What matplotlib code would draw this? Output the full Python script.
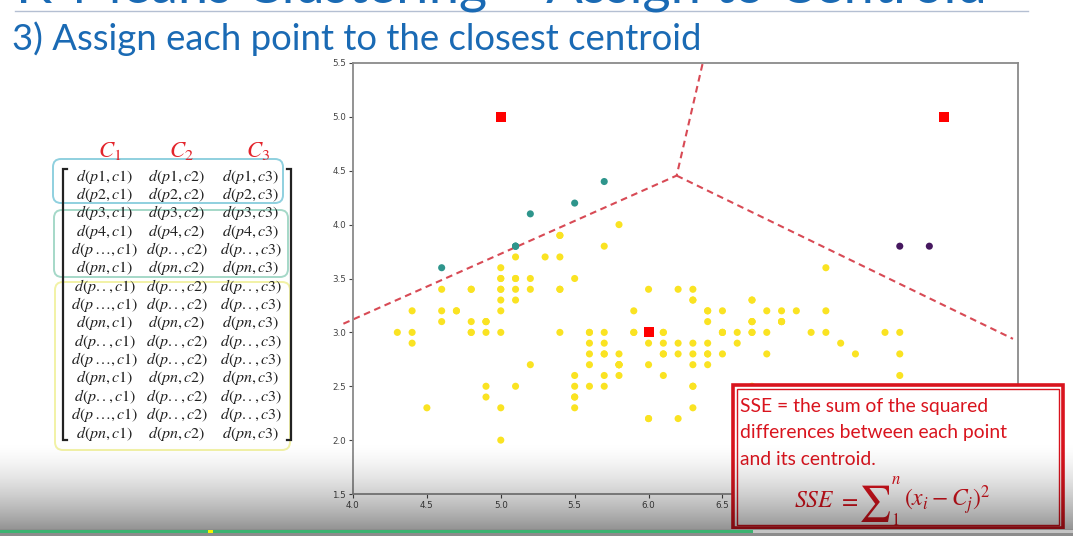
import numpy as np
import matplotlib
matplotlib.use("Agg")
import matplotlib.pyplot as plt
from matplotlib.patches import Rectangle, FancyBboxPatch

plt.rcParams['mathtext.fontset'] = 'stix'

# ---------------- data ----------------
sepal_length = [
    5.1, 4.9, 4.7, 4.6, 5.0, 5.4, 4.6, 5.0, 4.4, 4.9, 5.4, 4.8, 4.8, 4.3, 5.8, 5.7, 5.4, 5.1, 5.7, 5.1,
    5.4, 5.1, 4.6, 5.1, 4.8, 5.0, 5.0, 5.2, 5.2, 4.7, 4.8, 5.4, 5.2, 5.5, 4.9, 5.0, 5.5, 4.9, 4.4, 5.1,
    5.0, 4.5, 4.4, 5.0, 5.1, 4.8, 5.1, 4.6, 5.3, 5.0,
    7.0, 6.4, 6.9, 5.5, 6.5, 5.7, 6.3, 4.9, 6.6, 5.2, 5.0, 5.9, 6.0, 6.1, 5.6, 6.7, 5.6, 5.8, 6.2, 5.6,
    5.9, 6.1, 6.3, 6.1, 6.4, 6.6, 6.8, 6.7, 6.0, 5.7, 5.5, 5.5, 5.8, 6.0, 5.4, 6.0, 6.7, 6.3, 5.6, 5.5,
    5.5, 6.1, 5.8, 5.0, 5.6, 5.7, 5.7, 6.2, 5.1, 5.7,
    6.3, 5.8, 7.1, 6.3, 6.5, 7.6, 4.9, 7.3, 6.7, 7.2, 6.5, 6.4, 6.8, 5.7, 5.8, 6.4, 6.5, 7.7, 7.7, 6.0,
    6.9, 5.6, 7.7, 6.3, 6.7, 7.2, 6.2, 6.1, 6.4, 7.2, 7.4, 7.9, 6.4, 6.3, 6.1, 7.7, 6.3, 6.4, 6.0, 6.9,
    6.7, 6.9, 5.8, 6.8, 6.7, 6.7, 6.3, 6.5, 6.2, 5.9]
sepal_width = [
    3.5, 3.0, 3.2, 3.1, 3.6, 3.9, 3.4, 3.4, 2.9, 3.1, 3.7, 3.4, 3.0, 3.0, 4.0, 4.4, 3.9, 3.5, 3.8, 3.8,
    3.4, 3.7, 3.6, 3.3, 3.4, 3.0, 3.4, 3.5, 3.4, 3.2, 3.1, 3.4, 4.1, 4.2, 3.1, 3.2, 3.5, 3.1, 3.0, 3.4,
    3.5, 2.3, 3.2, 3.5, 3.8, 3.0, 3.8, 3.2, 3.7, 3.3,
    3.2, 3.2, 3.1, 2.3, 2.8, 2.8, 3.3, 2.4, 2.9, 2.7, 2.0, 3.0, 2.2, 2.9, 2.9, 3.1, 3.0, 2.7, 2.2, 2.5,
    3.2, 2.8, 2.5, 2.8, 2.9, 3.0, 2.8, 3.0, 2.9, 2.6, 2.4, 2.4, 2.7, 2.7, 3.0, 3.4, 3.1, 2.3, 3.0, 2.5,
    2.6, 3.0, 2.6, 2.3, 2.7, 3.0, 2.9, 2.9, 2.5, 2.8,
    3.3, 2.7, 3.0, 2.9, 3.0, 3.0, 2.5, 2.9, 2.5, 3.6, 3.2, 2.7, 3.0, 2.5, 2.8, 3.2, 3.0, 3.8, 2.6, 2.2,
    3.2, 2.8, 2.8, 2.7, 3.3, 3.2, 2.8, 3.0, 2.8, 3.0, 2.8, 3.8, 2.8, 2.8, 2.6, 3.0, 3.4, 3.1, 3.0, 3.1,
    3.1, 3.1, 2.7, 3.2, 3.3, 3.0, 2.5, 3.0, 3.4, 3.0]

centroid_x = [8.0, 5.0, 6.0]
centroid_y = [5.0, 5.0, 3.0]
cluster_colors = ['#46185f', '#2e958c', '#fae322']

# hand-drawn cluster boundaries (dashed)
boundary1_x = [6.365, 6.19, 3.91]
boundary1_y = [5.49, 4.455, 3.065]
boundary2_x = [6.19, 8.466]
boundary2_y = [4.455, 2.94]

x_ticks = [4.0, 4.5, 5.0, 5.5, 6.0, 6.5, 7.0, 7.5, 8.0, 8.5]
y_ticks = [1.5, 2.0, 2.5, 3.0, 3.5, 4.0, 4.5, 5.0, 5.5]

column_labels = [r'$C_1$', r'$C_2$', r'$C_3$']
row_points_c1 = ['p1', 'p2', 'p3', 'p4', 'p\\,\\ldots', 'pn',
                 'p..', 'p\\,\\ldots', 'pn', 'p..', 'p\\,\\ldots', 'pn', 'p..', 'p\\,\\ldots', 'pn']
row_points_c23 = ['p1', 'p2', 'p3', 'p4', 'p..', 'pn',
                  'p..', 'p..', 'pn', 'p..', 'p..', 'pn', 'p..', 'p..', 'pn']

title_top = 'K-Means Clustering \u2013 Assign to Centroid'
subtitle = '3) Assign each point to the closest centroid'
sse_lines = ['SSE = the sum of the squared', 'differences between each point', 'and its centroid.']

# ---------------- figure ----------------
W, H = 1073, 536
fig = plt.figure(figsize=(W / 100, H / 100), dpi=100)
fig.patch.set_facecolor('white')

# scatter axes
L, R, T, B = 353, 1018, 63, 494
ax = fig.add_axes([L / W, 1 - B / H, (R - L) / W, (B - T) / H])
px = np.array(sepal_length)
py = np.array(sepal_width)
cx = np.array(centroid_x)
cy = np.array(centroid_y)
d2 = (px[:, None] - cx[None, :]) ** 2 + (py[:, None] - cy[None, :]) ** 2
labels = np.argmin(np.round(d2, 6), axis=1)
ax.scatter(px, py, c=[cluster_colors[k] for k in labels], s=26, linewidths=0, zorder=3)
ax.scatter(cx, cy, marker='s', c='#ff0000', s=52, linewidths=0, zorder=4)
ax.plot(boundary1_x, boundary1_y, ls=(0, (3.2, 2.2)), color='#d84a55', lw=1.5, clip_on=False, zorder=2)
ax.plot(boundary2_x, boundary2_y, ls=(0, (3.2, 2.2)), color='#d84a55', lw=1.5, clip_on=False, zorder=2)
ax.set_xlim(4.0, 8.5)
ax.set_ylim(1.5, 5.5)
ax.set_xticks(x_ticks)
ax.set_yticks(y_ticks)
ax.set_xticklabels([f'{v:.1f}' for v in x_ticks])
ax.set_yticklabels([f'{v:.1f}' for v in y_ticks])
ax.tick_params(labelsize=6.3, colors='#444444', length=3, width=0.8, pad=2)
for s in ax.spines.values():
    s.set_color('#8a8a8a')
    s.set_linewidth(1.3)

# overlay axes in pixel coordinates for slide elements
ov = fig.add_axes([0, 0, 1, 1], zorder=10)
ov.set_xlim(0, W)
ov.set_ylim(H, 0)
ov.axis('off')
ov.patch.set_alpha(0)

# top title (cut off by the screenshot edge) and rule
ov.text(16, 2, title_top, fontsize=39, family='Lato', color='#1a6ab4', va='baseline', ha='left')
ov.plot([15, 1028], [10.5, 10.5], color='#b4bfd2', lw=1.0)
ov.text(12, 50, subtitle, fontsize=26.3, family='Lato', color='#1a6ab4', va='baseline', ha='left')

# matrix
col_x = [104.5, 177, 251]
label_x = [110, 181, 258]
row_y0, row_dy = 176, 18.36
for j, lab in enumerate(column_labels):
    ov.text(label_x[j], 150, lab, fontsize=16.5, color='#e3242b', ha='center', va='center')
for i in range(len(row_points_c1)):
    for j in range(3):
        p = row_points_c1[i] if j == 0 else row_points_c23[i]
        ov.text(col_x[j], row_y0 + i * row_dy, rf'$d({p},c{j + 1})$', fontsize=11.5,
                color='#222222', ha='center', va='center')

# brackets
for xb, sgn in [(63, 1), (290.5, -1)]:
    ov.plot([xb + 4 * sgn, xb, xb, xb + 4 * sgn], [169, 169, 440, 440], color='#222222', lw=1.6,
            solid_joinstyle='miter')

# rounded group boxes
for (x0, y0, x1, y1, col) in [(53, 159, 283, 203, '#8fd0df'),
                              (54, 210, 288, 277, '#a5d8c8'),
                              (55, 282, 290, 450, '#f2f2a6')]:
    ov.add_patch(FancyBboxPatch((x0, y0), x1 - x0, y1 - y0, boxstyle='round,pad=0,rounding_size=8',
                                fill=False, edgecolor=col, lw=1.4))

# SSE box
red = '#d9141e'
ov.add_patch(Rectangle((732.5, 385), 330, 143, facecolor='white', edgecolor=red, lw=2.6, zorder=20))
ov.add_patch(Rectangle((736.5, 388.5), 322, 136, fill=False, edgecolor=red, lw=1.0, zorder=21))
for k, line in enumerate(sse_lines):
    ov.text(740, 412 + k * 26.3, line, fontsize=13.9, family='Lato', color=red,
            va='baseline', ha='left', zorder=22)
# formula pieces
ov.text(794, 507, r'$SSE$', fontsize=17, color=red, ha='left', va='baseline', zorder=22)
ov.text(838, 507, r'$=$', fontsize=17, color=red, ha='left', va='baseline', zorder=22)
ov.text(858, 513, r'$\sum$', fontsize=26, color=red, ha='left', va='baseline', zorder=22)
ov.text(891, 484, r'$n$', fontsize=12, color=red, ha='left', va='baseline', zorder=22)
ov.text(891, 525, r'$1$', fontsize=12, color=red, ha='left', va='baseline', zorder=22)
ov.text(904, 507, r'$(x_i - C_j)^2$', fontsize=17, color=red, ha='left', va='baseline', zorder=22)

# video overlay gradient at bottom
n = 100
alpha = np.linspace(0, 1, n) ** 1.6 * 0.42
grad = np.zeros((n, 2, 4))
grad[:, :, 3] = alpha[:, None]
ov.imshow(grad, extent=(0, W, 529, 440), aspect='auto', zorder=30, interpolation='bilinear')
ov.add_patch(Rectangle((0, 529), W, 7, facecolor='#8c8c8c', edgecolor='none', zorder=31))
ov.add_patch(Rectangle((0, 529.5), 753, 3.6, facecolor='#3cb371', edgecolor='none', zorder=32))
ov.add_patch(Rectangle((753, 529.5), W - 753, 3.6, facecolor='#c4c4c4', edgecolor='none', zorder=32))
ov.add_patch(Rectangle((208, 529.5), 5, 3.6, facecolor='#f5f500', edgecolor='none', zorder=33))
ov.set_xlim(0, W)
ov.set_ylim(H, 0)

fig.savefig('out.png', dpi=100)
